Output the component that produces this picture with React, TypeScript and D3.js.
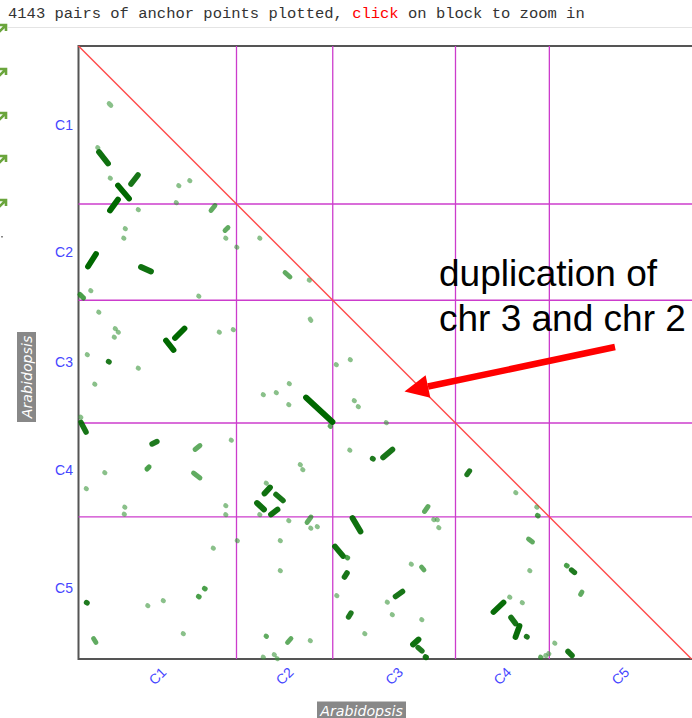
import React from "react";
import * as d3 from "d3";

// Chromosome names and lengths (Mb) – same genome on both axes
const chromNames = ["C1", "C2", "C3", "C4", "C5"];
const chromLengths = [31.6, 19.25, 24.55, 18.77, 28.43];

// Anchor blocks: [xStart, yStart, xEnd, yEnd, anchorCount] in genome Mb
const anchorBlocks: number[][] = [
  [6.1, 11.5, 6.5, 11.9, 1], [3.8, 20.3, 3.8, 20.3, 1], [4.1, 21.2, 5.9, 23.5, 6],
  [6.3, 26.4, 6.3, 26.4, 1], [10.5, 27.6, 11.9, 25.8, 5], [7.9, 27.9, 10.1, 30.5, 8],
  [6.3, 32.9, 7.9, 30.7, 8], [11.9, 32.7, 11.9, 32.7, 1], [20, 27.9, 20, 27.9, 1],
  [22.2, 26.9, 22.2, 26.9, 1], [19.5, 31.3, 19.5, 31.3, 1], [26.5, 32.9, 27.3, 31.9, 2],
  [9.3, 36.5, 9.3, 36.5, 1], [9.0, 38.4, 9.0, 38.4, 1], [29.3, 36.9, 29.9, 36.3, 2],
  [29.4, 38.4, 29.4, 38.4, 1], [31.6, 40.2, 31.6, 40.2, 1], [36.2, 38.4, 36.2, 38.4, 1],
  [1.9, 44.1, 3.5, 41.6, 8], [12.5, 44.2, 14.5, 45.1, 6], [41.3, 45.3, 42.3, 46.2, 2],
  [46.1, 46.8, 46.1, 46.8, 1], [2.4, 48.9, 2.4, 48.9, 1], [0.3, 49.7, 1.0, 50.4, 3],
  [24, 50, 24, 50, 1], [4, 53.2, 4, 53.2, 1], [7.3, 56.5, 7.3, 56.5, 1],
  [7.9, 57.2, 7.9, 57.2, 1], [7.1, 58.2, 7.1, 58.2, 1], [19.3, 58.4, 21.2, 56.5, 8],
  [17.5, 58.9, 19, 60.8, 8], [28.1, 57.2, 28.1, 57.2, 1], [30.9, 56.7, 30.9, 56.7, 1],
  [46.3, 54.6, 46.5, 54.9, 1], [1.7, 61.7, 1.7, 61.7, 1],
  [6, 63.1, 6, 63.1, 4], [11.9, 64.4, 11.9, 64.4, 1], [3.2, 67.6, 3.2, 67.6, 1],
  [36.9, 69.7, 36.9, 69.7, 1], [39.5, 69.3, 39.5, 69.3, 1], [42.1, 67.5, 42.1, 67.5, 1],
  [42, 71.7, 42, 71.7, 1], [45.5, 70.3, 50.8, 75.2, 12], [50.3, 76, 50.3, 76, 2],
  [51.5, 63.7, 51.5, 63.7, 1], [54.3, 62.7, 54.3, 62.7, 1], [55.1, 70.9, 55.1, 70.9, 1],
  [55.9, 72.1, 55.9, 72.1, 1], [0.4, 74.2, 0.4, 74.2, 1], [0.5, 75.3, 1.5, 77.2, 5],
  [14.7, 79.6, 15.7, 79.1, 4], [23.3, 80.7, 24.3, 79.9, 2], [30.5, 78.8, 30.5, 78.8, 1],
  [13.7, 84.6, 14.1, 84.2, 3], [5.2, 85.3, 5.2, 85.3, 1], [23.0, 85.4, 24.3, 86.4, 2],
  [1.5, 88.5, 1.5, 88.5, 1], [9.2, 92.2, 9.2, 92.2, 1], [9.1, 93.6, 9.1, 93.6, 1],
  [29.4, 91.9, 29.4, 91.9, 1], [29.4, 93.7, 29.4, 93.7, 1], [44.3, 83.7, 44.3, 83.7, 1],
  [44.8, 84.7, 44.8, 84.7, 1], [54.2, 80.8, 54.2, 80.8, 1], [58.8, 82.5, 58.8, 82.5, 4],
  [60.9, 82.3, 62.8, 80.7, 5], [37.5, 87.4, 37.5, 87.4, 1], [37.2, 89.5, 38.3, 88.3, 6],
  [39.5, 89.7, 40.9, 90.9, 5], [35.7, 91.4, 37.1, 92.7, 6], [38.5, 93.7, 39.8, 92.7, 6],
  [36.2, 93.7, 36.2, 93.7, 1], [42, 94.9, 42, 94.9, 1], [45.7, 95.3, 46.5, 94.2, 2],
  [46.4, 96.4, 46.4, 96.4, 1], [47.7, 96.1, 47.7, 96.1, 1], [54.8, 94.4, 56.4, 97.1, 6],
  [40.3, 98.9, 40.3, 98.9, 1], [31.7, 98.9, 31.7, 98.9, 1], [26.9, 100.4, 26.9, 100.4, 1],
  [51.3, 100.1, 52.9, 102, 6], [53.7, 102.3, 53.7, 102.3, 3], [53.2, 106.2, 53.7, 105.4, 5],
  [40.3, 104.9, 40.3, 104.9, 1], [1.6, 111.3, 1.6, 111.3, 4], [24, 110.1, 24, 110.1, 3],
  [25.2, 108.5, 25.2, 108.5, 3], [13.8, 111.9, 13.8, 111.9, 1], [16.9, 110.9, 16.9, 110.9, 1],
  [51.6, 109.9, 51.6, 109.9, 1], [61.7, 111.2, 61.7, 111.2, 1], [54, 114.2, 54.5, 113.4, 4],
  [57.2, 117.5, 57.2, 117.5, 1], [20.9, 117.5, 20.9, 117.5, 1], [3, 118.5, 3.5, 119.3, 2],
  [37.5, 118, 37.5, 118, 2], [41.8, 119.3, 42.5, 118.5, 2], [46.3, 118.9, 46.3, 118.9, 1],
  [36.9, 122.2, 36.9, 122.2, 1], [39.1, 121.7, 39.1, 121.7, 1], [39.7, 122.5, 39.7, 122.5, 1],
  [61.5, 75.3, 61.5, 75.3, 1], [77.7, 85.7, 78.2, 85, 4], [87.4, 89.3, 87.4, 89.3, 1],
  [91.6, 92.2, 91.6, 92.2, 1], [91.8, 93.9, 91.8, 93.9, 3], [69.2, 93.1, 69.9, 92.1, 2],
  [71, 94.7, 71, 94.7, 1], [71.7, 94.7, 71.7, 94.7, 1], [72, 96.3, 72, 96.3, 1],
  [90, 98.6, 90.8, 99.2, 2], [90.2, 104.9, 90.2, 104.9, 1], [66.5, 103.6, 66.5, 103.6, 1],
  [68.6, 104.2, 69.1, 104.8, 2], [97.6, 103.9, 97.6, 103.9, 3], [98.6, 104.8, 99.2, 105.3, 4],
  [100.4, 109.7, 100.7, 109.2, 2], [63.4, 110.1, 64.8, 109.1, 5], [62.7, 113.7, 62.7, 113.7, 1],
  [68.6, 114.7, 68.6, 114.7, 1], [86.2, 110.2, 86.2, 110.2, 1], [88.7, 111.3, 88.7, 111.3, 1],
  [83.0, 113.2, 85.0, 111.3, 7], [86.5, 114.3, 87.4, 115.5, 5], [87.4, 118.2, 88.2, 116, 7],
  [89.6, 118.1, 89.6, 118.1, 4], [66.9, 119.7, 68, 118.7, 6], [67.9, 120.3, 68.7, 121, 4],
  [69.4, 122.2, 69.4, 122.2, 5], [95.2, 119.4, 95.2, 119.4, 1], [97.9, 121.1, 98.7, 121.9, 5],
  [92.4, 122.2, 92.4, 122.2, 2], [93.4, 121.9, 93.4, 121.9, 1], [94, 121.5, 94, 121.5, 1],
];

// Annotation (genome Mb coordinates)
const noteLines = ["duplication of", "chr 3 and chr 2"];
const noteAnchor = [72.1, 48, 57];
const arrowTail = [107.3, 60.2];
const arrowTip = [65.2, 69.1];

const headerPre = "4143 pairs of anchor points plotted, ";
const headerClick = "click";
const headerPost = " on block to zoom in";
const axisTitle = "Arabidopsis";

export default function App() {
  const W = 692, H = 718;
  const total = d3.sum(chromLengths);
  const x = d3.scaleLinear().domain([0, total]).range([78.5, 691.5]);
  const y = d3.scaleLinear().domain([0, total]).range([46, 659]);
  const bounds: number[] = Array.from(d3.cumsum(chromLengths));
  const starts = [0, ...bounds.slice(0, -1)];
  const mids = chromLengths.map((l, i) => starts[i] + l / 2);
  const inner = bounds.slice(0, -1);

  const opacity = d3.scaleLinear().domain([1, 4, 8]).range([0.6, 0.88, 1]).clamp(true);
  const width = d3.scaleLinear().domain([1, 6]).range([4.6, 5.8]).clamp(true);
  const color = (n: number) => (n >= 4 ? "#006800" : n >= 2 ? "#1a861a" : "#3a963a");

  // arrow geometry
  const tx = x(arrowTail[0]), ty = y(arrowTail[1]);
  const hx = x(arrowTip[0]), hy = y(arrowTip[1]);
  const len = Math.hypot(hx - tx, hy - ty);
  const ux = (hx - tx) / len, uy = (hy - ty) / len;
  const headL = 24, headW = 11.5;
  const bx = hx - ux * headL, by = hy - uy * headL;
  const headPts = [
    [hx, hy],
    [bx - uy * headW, by + ux * headW],
    [bx + uy * headW, by - ux * headW],
  ];

  const iconYs = [28, 72, 116, 159, 203];

  return (
    <svg width={W} height={H} style={{ position: "absolute", left: 0, top: 0, background: "#fff" }}>
      <defs>
        <filter id="soft" x="-20%" y="-20%" width="140%" height="140%">
          <feGaussianBlur stdDeviation="0.55" />
        </filter>
      </defs>
      <rect x={0} y={0} width={W} height={H} fill="#fff" />
      {/* header */}
      <text x={8} y={18} fontFamily="'Liberation Mono','Courier New',monospace" fontSize={15.5} fill="#333">
        {headerPre}
        <tspan fill="#ff0000">{headerClick}</tspan>
        {headerPost}
      </text>
      <line x1={8} x2={W} y1={27.5} y2={27.5} stroke="#e4e4e4" strokeWidth={1} />
      {/* left icons */}
      {iconYs.map((iy, i) => (
        <path
          key={i}
          d={`M-2 ${iy + 5} L5 ${iy - 2} M0 ${iy - 3} L6 ${iy - 3} L6 ${iy + 3}`}
          stroke="#6aa53c"
          strokeWidth={2.6}
          fill="none"
        />
      ))}
      <rect x={1} y={236} width={2} height={1.5} fill="#888" />

      {/* plot frame */}
      <rect x={x(0)} y={y(0)} width={x(total) - x(0) + 2} height={y(total) - y(0)} fill="#fff" stroke="#555" strokeWidth={2} />
      {/* chromosome grid */}
      {inner.map((b, i) => (
        <g key={i}>
          <line x1={x(b)} x2={x(b)} y1={y(0)} y2={y(total)} stroke="#cc3ccc" strokeWidth={1.3} />
          <line x1={x(0)} x2={W} y1={y(b)} y2={y(b)} stroke="#cc3ccc" strokeWidth={1.3} />
        </g>
      ))}
      {/* diagonal */}
      <line x1={x(0)} y1={y(0)} x2={x(total)} y2={y(total)} stroke="#ff4a4a" strokeWidth={1.4} />

      {/* anchors */}
      <g filter="url(#soft)">
        {anchorBlocks.map((a, i) => (
          <line
            key={i}
            x1={x(a[0])}
            y1={y(a[1])}
            x2={x(a[2]) + (a[0] === a[2] && a[1] === a[3] ? 0.6 : 0)}
            y2={y(a[3]) + (a[0] === a[2] && a[1] === a[3] ? 0.4 : 0)}
            stroke={color(a[4])}
            strokeOpacity={opacity(a[4])}
            strokeWidth={width(a[4])}
            strokeLinecap="round"
          />
        ))}
      </g>

      {/* y tick labels */}
      {chromNames.map((c, i) => (
        <text key={c} x={73} y={y(mids[i]) + 5} textAnchor="end" fontFamily="Arial, 'Liberation Sans', sans-serif" fontSize={14} fill="#4646ff">
          {c}
        </text>
      ))}
      {/* x tick labels */}
      {chromNames.map((c, i) => (
        <text
          key={c}
          transform={`translate(${x(mids[i])},${676}) rotate(-45)`}
          textAnchor="middle"
          dy="0.35em"
          fontFamily="Arial, 'Liberation Sans', sans-serif"
          fontSize={14}
          fill="#4646ff"
        >
          {c}
        </text>
      ))}

      {/* axis titles */}
      <g transform="translate(26.5,377) rotate(-90)">
        <rect x={-45} y={-9.5} width={90} height={19} fill="#888" />
        <text x={0} y={5} textAnchor="middle" fontFamily="'DejaVu Sans', sans-serif" fontStyle="italic" fontSize={14.2} fill="#fff">
          {axisTitle}
        </text>
      </g>
      <g transform="translate(361.5,711)">
        <rect x={-44.5} y={-9.5} width={89} height={19} fill="#888" />
        <text x={0} y={4.5} textAnchor="middle" fontFamily="'DejaVu Sans', sans-serif" fontStyle="italic" fontSize={14.2} fill="#fff">
          {axisTitle}
        </text>
      </g>

      {/* annotation */}
      {noteLines.map((t, i) => (
        <text key={i} x={x(noteAnchor[0])} y={y(noteAnchor[1 + i])} fontFamily="Arial, 'Liberation Sans', sans-serif" fontSize={37} fill="#000">
          {t}
        </text>
      ))}
      <line x1={tx} y1={ty} x2={bx} y2={by} stroke="#ff0000" strokeWidth={6.5} />
      <polygon points={headPts.map((p) => p.join(",")).join(" ")} fill="#ff0000" />
    </svg>
  );
}
